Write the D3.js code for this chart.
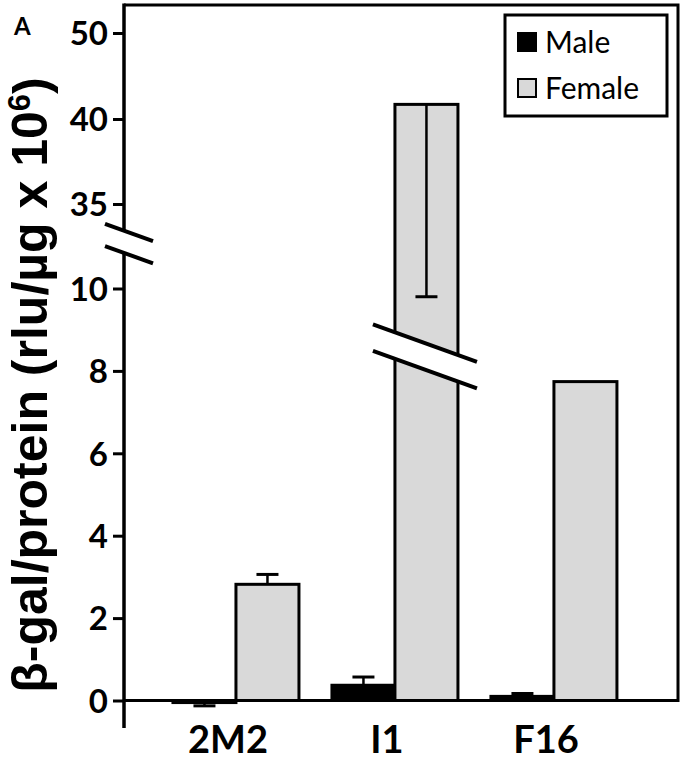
<!DOCTYPE html>
<html><head><meta charset="utf-8">
<script src="https://cdn.jsdelivr.net/npm/d3@7"></script>
<style>body{margin:0;background:#fff}svg{display:block}</style>
</head><body><svg id="c" width="686" height="763"></svg>
<script>
// ---- data ----
const categories = ["2M2", "I1", "F16"];
const seriesNames = ["Male", "Female"];
const maleValues = [-0.05, 0.37, 0.10];
const maleErrorEnds = [-0.13, 0.57, 0.17];
const femaleValues = [2.82, 41.7, 7.74];
const femaleErrorEnds = [3.06, 9.8, null];
const lowerTicks = [0, 2, 4, 6, 8, 10];
const upperTicks = [35, 40, 50];
const yTitle = "β-gal/protein (rlu/µg x 10";
const yTitleSup = "6";
const panelLabel = "A";

// ---- layout ----
const svg = d3.select("#c");
const plotLeft = 124, plotRight = 678, plotTop = 5, axisBottom = 728;
const colors = {Male: "#000", Female: "#d9d9d9"};

const x = d3.scaleBand().domain(categories).range([plotLeft, plotRight])
  .paddingInner(0.2075).paddingOuter(0.346).align(0.445);
const yLow = d3.scaleLinear().domain([0, 10]).range([700.5, 288.5]);
const yUp = d3.scaleLinear().domain([35, 40, 50]).range([204, 119, 33]);
const splitAt = 20;
const y = v => v > splitAt ? yUp(v) : yLow(v);
const bw = x.bandwidth() / 2;

// frame
svg.append("path").attr("d", `M${plotLeft},${plotTop}H${plotRight}V${yLow(0)}H${plotLeft}`)
  .attr("fill", "none").attr("stroke", "#000").attr("stroke-width", 3);

// bars
const rows = categories.map((c, i) => ({c, m: maleValues[i], me: maleErrorEnds[i], f: femaleValues[i], fe: femaleErrorEnds[i]}));
const g = svg.append("g");
rows.forEach(r => {
  const x0 = x(r.c);
  [["Male", r.m, r.me, x0], ["Female", r.f, r.fe, x0 + bw]].forEach(([s, v, e, bx]) => {
    const y0 = y(0), y1 = y(v);
    g.append("rect").attr("x", bx).attr("width", bw)
      .attr("y", Math.min(y0, y1)).attr("height", Math.abs(y0 - y1))
      .attr("fill", colors[s]).attr("stroke", "#000").attr("stroke-width", 3);
    if (e != null) {
      const cx = bx + bw / 2, ye = y(e);
      g.append("line").attr("x1", cx).attr("x2", cx).attr("y1", y1).attr("y2", ye)
        .attr("stroke", "#000").attr("stroke-width", 2.5);
      g.append("line").attr("x1", cx - 11).attr("x2", cx + 11).attr("y1", ye).attr("y2", ye)
        .attr("stroke", "#000").attr("stroke-width", 3);
    }
  });
  // broken bar
  if (r.f > splitAt) {
    const bx = x0 + bw, slope = 0.36, xa = bx - 22, xb = bx + bw + 19, xc = bx + bw / 2;
    const yc = yLow(8.34), half = 13.25;
    const ly = (xx, off) => yc + off + (xx - xc) * slope;
    g.append("path").attr("d", `M${xa},${ly(xa,-half)}L${xb},${ly(xb,-half)}L${xb},${ly(xb,half)}L${xa},${ly(xa,half)}Z`)
      .attr("fill", "#fff");
    [-half, half].forEach(off => g.append("line").attr("x1", xa).attr("y1", ly(xa, off)).attr("x2", xb).attr("y2", ly(xb, off))
      .attr("stroke", "#000").attr("stroke-width", 4));
  }
});

// y axis
const tickStyle = sel => {
  sel.select(".domain").remove();
  sel.selectAll(".tick line").attr("stroke", "#000").attr("stroke-width", 3);
  sel.selectAll(".tick text").attr("fill", "#000").style("font-family", "Lato, 'Open Sans', sans-serif")
    .style("font-weight", "bold").style("font-size", "33px").attr("dy", "0.36em");
};
svg.append("g").attr("transform", `translate(${plotLeft},0)`)
  .call(d3.axisLeft(yLow).tickValues(lowerTicks).tickSize(11).tickPadding(5)).call(tickStyle);
svg.append("g").attr("transform", `translate(${plotLeft},0)`)
  .call(d3.axisLeft(yUp).tickValues(upperTicks).tickSize(11).tickPadding(5)).call(tickStyle);

// axis line with break
const brUp = 230.6, brLow = 252.9, bslope = 0.36;
svg.append("line").attr("x1", plotLeft).attr("x2", plotLeft).attr("y1", plotTop - 1.5).attr("y2", brUp).attr("stroke", "#000").attr("stroke-width", 3.5);
svg.append("line").attr("x1", plotLeft).attr("x2", plotLeft).attr("y1", brLow).attr("y2", axisBottom).attr("stroke", "#000").attr("stroke-width", 3.5);
[brUp, brLow].forEach(by => svg.append("line")
  .attr("x1", plotLeft - 19).attr("y1", by - 19 * bslope).attr("x2", plotLeft + 29).attr("y2", by + 29 * bslope)
  .attr("stroke", "#000").attr("stroke-width", 4));

// x labels
svg.append("g").selectAll("text").data(categories).join("text")
  .attr("x", d => x(d) + x.bandwidth() / 2 - 8).attr("y", 753)
  .attr("text-anchor", "middle").style("font-family", "Lato, 'Open Sans', sans-serif")
  .style("font-weight", "bold").style("font-size", "38px").text(d => d);

// y title
const t = svg.append("text").attr("transform", "translate(47,385) rotate(-90)")
  .attr("text-anchor", "middle").style("font-family", "'Liberation Sans', Arial, sans-serif")
  .style("font-weight", "bold").style("font-size", "50px");
t.append("tspan").text(yTitle);
t.append("tspan").attr("dy", "-0.55em").style("font-size", "31px").text(yTitleSup);
t.append("tspan").attr("dy", "0.355em").text(")");

// panel label
svg.append("text").attr("x", 14).attr("y", 35).style("font-family", "Lato, 'Open Sans', sans-serif")
  .style("font-weight", "bold").style("font-size", "24px").text(panelLabel);

// legend
const lg = svg.append("g");
lg.append("rect").attr("x", 505).attr("y", 15).attr("width", 162).attr("height", 101)
  .attr("fill", "#fff").attr("stroke", "#000").attr("stroke-width", 3);
seriesNames.forEach((s, i) => {
  const yy = 53 + i * 46;
  lg.append("rect").attr("x", 518).attr("y", yy - 20).attr("width", 18).attr("height", 18)
    .attr("fill", colors[s]).attr("stroke", "#000").attr("stroke-width", 2);
  lg.append("text").attr("x", 545).attr("y", yy).style("font-family", "Lato, 'Open Sans', sans-serif")
    .style("font-size", "30px").text(s);
});
</script></body></html>
